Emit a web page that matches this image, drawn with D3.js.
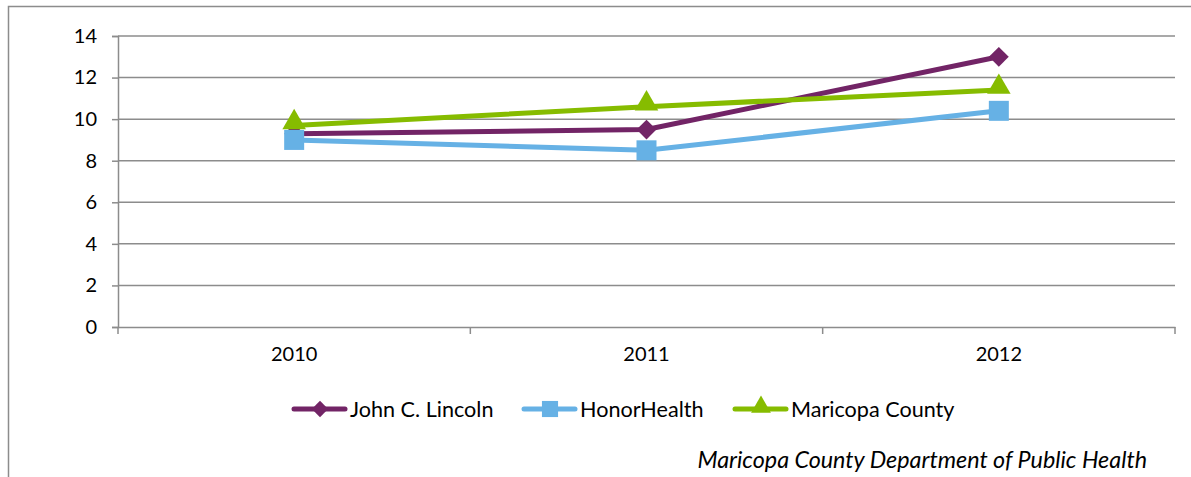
<!DOCTYPE html>
<html>
<head>
<meta charset="utf-8">
<script src="https://cdn.jsdelivr.net/npm/d3@7"></script>
<style>
  body { margin: 0; background: #fff; }
  text { font-family: Lato, "Open Sans", sans-serif; fill: #000; }
</style>
</head>
<body>
<div id="plot"></div>
<script>
const years = ["2010", "2011", "2012"];
const seriesNames = ["John C. Lincoln", "HonorHealth", "Maricopa County"];
const johnLincoln = [9.3, 9.5, 13.0];
const honorHealth = [9.0, 8.5, 10.4];
const maricopa = [9.7, 10.6, 11.4];
const yTicks = [0, 2, 4, 6, 8, 10, 12, 14];
const sourceNote = "Maricopa County Department of Public Health";

const width = 1191, height = 477;
const margin = { left: 118, right: 16, top: 36, bottom: 150 };

// series table built from the arrays above
const series = [
  { name: seriesNames[0], values: johnLincoln, color: "#722466", symbol: "diamond" },
  { name: seriesNames[1], values: honorHealth, color: "#66b1e5", symbol: "square" },
  { name: seriesNames[2], values: maricopa,    color: "#86bc00", symbol: "triangle" }
];

const xScale = d3.scaleBand()
    .domain(years)
    .range([margin.left, width - margin.right]);

const yScale = d3.scaleLinear()
    .domain([0, 14])
    .range([height - margin.bottom, margin.top]);

const svg = d3.select("#plot")
    .append("svg")
    .attr("width", width)
    .attr("height", height);

// outer chart frame (top + left edges only visible)
svg.append("path")
    .attr("d", `M8.5,${height} V6.5 H${width}`)
    .attr("fill", "none")
    .attr("stroke", "#8c8c8c")
    .attr("stroke-width", 1.5);

// gridlines
svg.append("g")
    .selectAll("line")
    .data(yTicks.filter(d => d > 0))
    .join("line")
    .attr("x1", margin.left)
    .attr("x2", width - margin.right)
    .attr("y1", d => yScale(d))
    .attr("y2", d => yScale(d))
    .attr("stroke", "#8c8c8c")
    .attr("stroke-width", 1.5);

// y axis
const yAxis = svg.append("g")
    .attr("transform", `translate(${margin.left},0)`)
    .call(d3.axisLeft(yScale).tickValues(yTicks).tickSize(6).tickPadding(15));
yAxis.select(".domain").attr("stroke", "#8c8c8c").attr("stroke-width", 1.5);
yAxis.selectAll(".tick line").attr("stroke", "#8c8c8c").attr("stroke-width", 1.5);
yAxis.selectAll(".tick text").style("font-size", "20px").attr("fill", "#000");

// x axis
const xAxis = svg.append("g")
    .attr("transform", `translate(0,${yScale(0)})`)
    .call(d3.axisBottom(xScale).tickSize(0).tickPadding(20));
xAxis.select(".domain").attr("stroke", "#8c8c8c").attr("stroke-width", 1.5);
xAxis.selectAll(".tick text").style("font-size", "20px").attr("fill", "#000");

// tick marks between categories
const edges = years.map(y => xScale(y)).concat([xScale.range()[1]]);
xAxis.selectAll("line.cat-tick")
    .data(edges)
    .join("line")
    .attr("class", "cat-tick")
    .attr("x1", d => d).attr("x2", d => d)
    .attr("y1", 0).attr("y2", 7)
    .attr("stroke", "#8c8c8c")
    .attr("stroke-width", 1.5);

const cx = y => xScale(y) + xScale.bandwidth() / 2;

const symbolOf = name => ({
  diamond: d3.symbol().type(d3.symbolDiamond2).size(250),
  square: d3.symbol().type(d3.symbolSquare).size(400),
  triangle: d3.symbol().type(d3.symbolTriangle).size(240)
}[name]);

const line = d3.line()
    .x((d, i) => cx(years[i]))
    .y(d => yScale(d));

const chart = svg.append("g");

series.forEach(s => {
  const g = chart.append("g");
  g.append("path")
      .datum(s.values)
      .attr("d", line)
      .attr("fill", "none")
      .attr("stroke", s.color)
      .attr("stroke-width", 5)
      .attr("stroke-linejoin", "round");
  g.selectAll("path.mark")
      .data(s.values)
      .join("path")
      .attr("class", "mark")
      .attr("d", symbolOf(s.symbol))
      .attr("transform", (d, i) => {
        const dy = s.symbol === "triangle" ? -3 : 0;
        return `translate(${cx(years[i])},${yScale(d) + dy})`;
      })
      .attr("fill", s.color);
});

// legend
const legendX = [292, 522, 733];
const legend = svg.append("g").attr("transform", "translate(0,409)");
series.forEach((s, i) => {
  const g = legend.append("g").attr("transform", `translate(${legendX[i]},0)`);
  g.append("line")
      .attr("x1", 2).attr("x2", 53)
      .attr("stroke", s.color)
      .attr("stroke-width", 5)
      .attr("stroke-linecap", "round");
  g.append("path")
      .attr("d", symbolOf(s.symbol).size(s.symbol === "square" ? 260 : 170)())
      .attr("transform", `translate(28,${s.symbol === "triangle" ? -2 : 0})`)
      .attr("fill", s.color);
  g.append("text")
      .attr("x", 58)
      .attr("y", 7.5)
      .style("font-size", "21.6px")
      .text(s.name);
});

// source note
svg.append("text")
    .attr("x", 1147)
    .attr("y", 468)
    .attr("text-anchor", "end")
    .style("font-size", "23.3px")
    .style("font-style", "italic")
    .text(sourceNote);
</script>
</body>
</html>
